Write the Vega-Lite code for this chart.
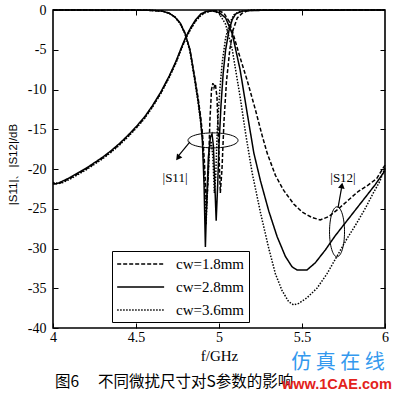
{
  "$schema": "https://vega.github.io/schema/vega-lite/v6.json",
  "width": 332,
  "height": 318,
  "autosize": "none",
  "padding": {"left": 53, "top": 10, "right": 15, "bottom": 66},
  "background": "white",
  "config": {
    "view": {"stroke": "black", "strokeWidth": 1.6},
    "axis": {"domain": false, "grid": false, "labelFont": "Liberation Serif", "labelFontSize": 14, "labelColor": "black", "tickColor": "black", "tickWidth": 1, "titleFont": "Liberation Serif", "titleColor": "black", "titleFontWeight": "normal"}
  },
  "datasets": {
    "curves": [
      {"f":4.0,"db":-21.8,"cw":"cw=1.8mm","s":"S12"},{"f":4.03,"db":-21.9,"cw":"cw=1.8mm","s":"S12"},{"f":4.06,"db":-21.6,"cw":"cw=1.8mm","s":"S12"},{"f":4.1,"db":-21.2,"cw":"cw=1.8mm","s":"S12"},{"f":4.15,"db":-20.6,"cw":"cw=1.8mm","s":"S12"},{"f":4.2,"db":-20.0,"cw":"cw=1.8mm","s":"S12"},{"f":4.25,"db":-19.3,"cw":"cw=1.8mm","s":"S12"},{"f":4.3,"db":-18.6,"cw":"cw=1.8mm","s":"S12"},{"f":4.35,"db":-17.8,"cw":"cw=1.8mm","s":"S12"},{"f":4.4,"db":-16.9,"cw":"cw=1.8mm","s":"S12"},{"f":4.45,"db":-15.9,"cw":"cw=1.8mm","s":"S12"},{"f":4.5,"db":-14.8,"cw":"cw=1.8mm","s":"S12"},{"f":4.55,"db":-13.6,"cw":"cw=1.8mm","s":"S12"},{"f":4.6,"db":-12.1,"cw":"cw=1.8mm","s":"S12"},{"f":4.65,"db":-10.4,"cw":"cw=1.8mm","s":"S12"},{"f":4.7,"db":-8.4,"cw":"cw=1.8mm","s":"S12"},{"f":4.74,"db":-6.6,"cw":"cw=1.8mm","s":"S12"},{"f":4.77,"db":-5.0,"cw":"cw=1.8mm","s":"S12"},{"f":4.8,"db":-3.5,"cw":"cw=1.8mm","s":"S12"},{"f":4.83,"db":-2.3,"cw":"cw=1.8mm","s":"S12"},{"f":4.86,"db":-1.3,"cw":"cw=1.8mm","s":"S12"},{"f":4.89,"db":-0.6,"cw":"cw=1.8mm","s":"S12"},{"f":4.92,"db":-0.25,"cw":"cw=1.8mm","s":"S12"},{"f":4.96,"db":-0.1,"cw":"cw=1.8mm","s":"S12"},
      {"f":5.0,"db":-0.1,"cw":"cw=1.8mm","s":"S12"},{"f":5.03,"db":-0.4,"cw":"cw=1.8mm","s":"S12"},{"f":5.06,"db":-1.4,"cw":"cw=1.8mm","s":"S12"},{"f":5.084,"db":-2.9,"cw":"cw=1.8mm","s":"S12"},{"f":5.12,"db":-5.5,"cw":"cw=1.8mm","s":"S12"},{"f":5.169,"db":-8.8,"cw":"cw=1.8mm","s":"S12"},{"f":5.22,"db":-12.6,"cw":"cw=1.8mm","s":"S12"},{"f":5.26,"db":-15.8,"cw":"cw=1.8mm","s":"S12"},{"f":5.29,"db":-18.0,"cw":"cw=1.8mm","s":"S12"},{"f":5.34,"db":-20.8,"cw":"cw=1.8mm","s":"S12"},{"f":5.39,"db":-22.7,"cw":"cw=1.8mm","s":"S12"},{"f":5.45,"db":-24.4,"cw":"cw=1.8mm","s":"S12"},{"f":5.5,"db":-25.4,"cw":"cw=1.8mm","s":"S12"},{"f":5.56,"db":-26.1,"cw":"cw=1.8mm","s":"S12"},{"f":5.61,"db":-26.4,"cw":"cw=1.8mm","s":"S12"},{"f":5.66,"db":-26.0,"cw":"cw=1.8mm","s":"S12"},{"f":5.72,"db":-25.0,"cw":"cw=1.8mm","s":"S12"},{"f":5.78,"db":-23.9,"cw":"cw=1.8mm","s":"S12"},{"f":5.84,"db":-22.8,"cw":"cw=1.8mm","s":"S12"},{"f":5.9,"db":-22.0,"cw":"cw=1.8mm","s":"S12"},{"f":5.95,"db":-21.2,"cw":"cw=1.8mm","s":"S12"},{"f":6.0,"db":-19.5,"cw":"cw=1.8mm","s":"S12"},

      {"f":4.0,"db":-21.9,"cw":"cw=2.8mm","s":"S12"},{"f":4.03,"db":-21.8,"cw":"cw=2.8mm","s":"S12"},{"f":4.06,"db":-21.5,"cw":"cw=2.8mm","s":"S12"},{"f":4.1,"db":-21.1,"cw":"cw=2.8mm","s":"S12"},{"f":4.15,"db":-20.5,"cw":"cw=2.8mm","s":"S12"},{"f":4.2,"db":-19.9,"cw":"cw=2.8mm","s":"S12"},{"f":4.25,"db":-19.2,"cw":"cw=2.8mm","s":"S12"},{"f":4.3,"db":-18.5,"cw":"cw=2.8mm","s":"S12"},{"f":4.35,"db":-17.7,"cw":"cw=2.8mm","s":"S12"},{"f":4.4,"db":-16.8,"cw":"cw=2.8mm","s":"S12"},{"f":4.45,"db":-15.8,"cw":"cw=2.8mm","s":"S12"},{"f":4.5,"db":-14.7,"cw":"cw=2.8mm","s":"S12"},{"f":4.55,"db":-13.5,"cw":"cw=2.8mm","s":"S12"},{"f":4.6,"db":-12.0,"cw":"cw=2.8mm","s":"S12"},{"f":4.65,"db":-10.3,"cw":"cw=2.8mm","s":"S12"},{"f":4.7,"db":-8.3,"cw":"cw=2.8mm","s":"S12"},{"f":4.74,"db":-6.5,"cw":"cw=2.8mm","s":"S12"},{"f":4.77,"db":-4.9,"cw":"cw=2.8mm","s":"S12"},{"f":4.8,"db":-3.4,"cw":"cw=2.8mm","s":"S12"},{"f":4.83,"db":-2.2,"cw":"cw=2.8mm","s":"S12"},{"f":4.86,"db":-1.2,"cw":"cw=2.8mm","s":"S12"},{"f":4.89,"db":-0.5,"cw":"cw=2.8mm","s":"S12"},{"f":4.92,"db":-0.2,"cw":"cw=2.8mm","s":"S12"},{"f":4.96,"db":-0.1,"cw":"cw=2.8mm","s":"S12"},
      {"f":5.0,"db":-0.3,"cw":"cw=2.8mm","s":"S12"},{"f":5.04,"db":-1.0,"cw":"cw=2.8mm","s":"S12"},{"f":5.08,"db":-3.0,"cw":"cw=2.8mm","s":"S12"},{"f":5.127,"db":-7.5,"cw":"cw=2.8mm","s":"S12"},{"f":5.17,"db":-13.0,"cw":"cw=2.8mm","s":"S12"},{"f":5.21,"db":-18.0,"cw":"cw=2.8mm","s":"S12"},{"f":5.25,"db":-21.5,"cw":"cw=2.8mm","s":"S12"},{"f":5.3,"db":-25.3,"cw":"cw=2.8mm","s":"S12"},{"f":5.35,"db":-28.5,"cw":"cw=2.8mm","s":"S12"},{"f":5.4,"db":-31.0,"cw":"cw=2.8mm","s":"S12"},{"f":5.44,"db":-32.3,"cw":"cw=2.8mm","s":"S12"},{"f":5.47,"db":-32.7,"cw":"cw=2.8mm","s":"S12"},{"f":5.53,"db":-32.7,"cw":"cw=2.8mm","s":"S12"},{"f":5.58,"db":-31.8,"cw":"cw=2.8mm","s":"S12"},{"f":5.64,"db":-30.2,"cw":"cw=2.8mm","s":"S12"},{"f":5.7,"db":-28.4,"cw":"cw=2.8mm","s":"S12"},{"f":5.76,"db":-26.8,"cw":"cw=2.8mm","s":"S12"},{"f":5.82,"db":-25.2,"cw":"cw=2.8mm","s":"S12"},{"f":5.88,"db":-23.6,"cw":"cw=2.8mm","s":"S12"},{"f":5.94,"db":-22.0,"cw":"cw=2.8mm","s":"S12"},{"f":6.0,"db":-20.2,"cw":"cw=2.8mm","s":"S12"},

      {"f":4.0,"db":-21.7,"cw":"cw=3.6mm","s":"S12"},{"f":4.03,"db":-21.8,"cw":"cw=3.6mm","s":"S12"},{"f":4.06,"db":-21.7,"cw":"cw=3.6mm","s":"S12"},{"f":4.1,"db":-21.3,"cw":"cw=3.6mm","s":"S12"},{"f":4.15,"db":-20.7,"cw":"cw=3.6mm","s":"S12"},{"f":4.2,"db":-20.1,"cw":"cw=3.6mm","s":"S12"},{"f":4.25,"db":-19.4,"cw":"cw=3.6mm","s":"S12"},{"f":4.3,"db":-18.7,"cw":"cw=3.6mm","s":"S12"},{"f":4.35,"db":-17.9,"cw":"cw=3.6mm","s":"S12"},{"f":4.4,"db":-17.0,"cw":"cw=3.6mm","s":"S12"},{"f":4.45,"db":-16.0,"cw":"cw=3.6mm","s":"S12"},{"f":4.5,"db":-14.9,"cw":"cw=3.6mm","s":"S12"},{"f":4.55,"db":-13.7,"cw":"cw=3.6mm","s":"S12"},{"f":4.6,"db":-12.2,"cw":"cw=3.6mm","s":"S12"},{"f":4.65,"db":-10.5,"cw":"cw=3.6mm","s":"S12"},{"f":4.7,"db":-8.5,"cw":"cw=3.6mm","s":"S12"},{"f":4.74,"db":-6.7,"cw":"cw=3.6mm","s":"S12"},{"f":4.77,"db":-5.1,"cw":"cw=3.6mm","s":"S12"},{"f":4.8,"db":-3.6,"cw":"cw=3.6mm","s":"S12"},{"f":4.83,"db":-2.4,"cw":"cw=3.6mm","s":"S12"},{"f":4.86,"db":-1.4,"cw":"cw=3.6mm","s":"S12"},{"f":4.89,"db":-0.7,"cw":"cw=3.6mm","s":"S12"},{"f":4.92,"db":-0.3,"cw":"cw=3.6mm","s":"S12"},{"f":4.96,"db":-0.1,"cw":"cw=3.6mm","s":"S12"},
      {"f":5.0,"db":-0.4,"cw":"cw=3.6mm","s":"S12"},{"f":5.04,"db":-1.8,"cw":"cw=3.6mm","s":"S12"},{"f":5.08,"db":-5.0,"cw":"cw=3.6mm","s":"S12"},{"f":5.127,"db":-10.9,"cw":"cw=3.6mm","s":"S12"},{"f":5.16,"db":-15.5,"cw":"cw=3.6mm","s":"S12"},{"f":5.2,"db":-20.5,"cw":"cw=3.6mm","s":"S12"},{"f":5.25,"db":-25.5,"cw":"cw=3.6mm","s":"S12"},{"f":5.3,"db":-30.0,"cw":"cw=3.6mm","s":"S12"},{"f":5.34,"db":-33.2,"cw":"cw=3.6mm","s":"S12"},{"f":5.38,"db":-35.3,"cw":"cw=3.6mm","s":"S12"},{"f":5.42,"db":-36.7,"cw":"cw=3.6mm","s":"S12"},{"f":5.45,"db":-37.1,"cw":"cw=3.6mm","s":"S12"},{"f":5.48,"db":-36.9,"cw":"cw=3.6mm","s":"S12"},{"f":5.53,"db":-36.2,"cw":"cw=3.6mm","s":"S12"},{"f":5.59,"db":-35.0,"cw":"cw=3.6mm","s":"S12"},{"f":5.65,"db":-33.2,"cw":"cw=3.6mm","s":"S12"},{"f":5.71,"db":-31.0,"cw":"cw=3.6mm","s":"S12"},{"f":5.77,"db":-28.8,"cw":"cw=3.6mm","s":"S12"},{"f":5.83,"db":-26.8,"cw":"cw=3.6mm","s":"S12"},{"f":5.88,"db":-25.0,"cw":"cw=3.6mm","s":"S12"},{"f":5.93,"db":-23.0,"cw":"cw=3.6mm","s":"S12"},{"f":5.97,"db":-21.5,"cw":"cw=3.6mm","s":"S12"},{"f":6.0,"db":-19.8,"cw":"cw=3.6mm","s":"S12"},

      {"f":4.0,"db":0,"cw":"cw=1.8mm","s":"S11"},{"f":4.3,"db":0,"cw":"cw=1.8mm","s":"S11"},{"f":4.55,"db":-0.02,"cw":"cw=1.8mm","s":"S11"},{"f":4.62,"db":-0.08,"cw":"cw=1.8mm","s":"S11"},{"f":4.66,"db":-0.15,"cw":"cw=1.8mm","s":"S11"},{"f":4.7,"db":-0.4,"cw":"cw=1.8mm","s":"S11"},{"f":4.735,"db":-0.9,"cw":"cw=1.8mm","s":"S11"},{"f":4.765,"db":-1.6,"cw":"cw=1.8mm","s":"S11"},{"f":4.795,"db":-2.9,"cw":"cw=1.8mm","s":"S11"},{"f":4.825,"db":-5.0,"cw":"cw=1.8mm","s":"S11"},{"f":4.855,"db":-8.6,"cw":"cw=1.8mm","s":"S11"},{"f":4.875,"db":-11.2,"cw":"cw=1.8mm","s":"S11"},{"f":4.89,"db":-13.5,"cw":"cw=1.8mm","s":"S11"},
      {"f":4.9,"db":-15.5,"cw":"cw=1.8mm","s":"S11"},{"f":4.912,"db":-19,"cw":"cw=1.8mm","s":"S11"},{"f":4.925,"db":-25,"cw":"cw=1.8mm","s":"S11"},{"f":4.935,"db":-21,"cw":"cw=1.8mm","s":"S11"},{"f":4.945,"db":-14,"cw":"cw=1.8mm","s":"S11"},{"f":4.955,"db":-10,"cw":"cw=1.8mm","s":"S11"},{"f":4.963,"db":-9.2,"cw":"cw=1.8mm","s":"S11"},{"f":4.97,"db":-9.8,"cw":"cw=1.8mm","s":"S11"},{"f":4.978,"db":-9.3,"cw":"cw=1.8mm","s":"S11"},{"f":4.988,"db":-11,"cw":"cw=1.8mm","s":"S11"},{"f":4.998,"db":-17,"cw":"cw=1.8mm","s":"S11"},{"f":5.008,"db":-23,"cw":"cw=1.8mm","s":"S11"},{"f":5.018,"db":-20,"cw":"cw=1.8mm","s":"S11"},{"f":5.03,"db":-14,"cw":"cw=1.8mm","s":"S11"},{"f":5.045,"db":-9,"cw":"cw=1.8mm","s":"S11"},{"f":5.065,"db":-5,"cw":"cw=1.8mm","s":"S11"},{"f":5.085,"db":-2.5,"cw":"cw=1.8mm","s":"S11"},{"f":5.11,"db":-1,"cw":"cw=1.8mm","s":"S11"},{"f":5.14,"db":-0.4,"cw":"cw=1.8mm","s":"S11"},{"f":5.17,"db":-0.1,"cw":"cw=1.8mm","s":"S11"},{"f":5.25,"db":0,"cw":"cw=1.8mm","s":"S11"},{"f":6.0,"db":0,"cw":"cw=1.8mm","s":"S11"},

      {"f":4.0,"db":0,"cw":"cw=2.8mm","s":"S11"},{"f":4.3,"db":0,"cw":"cw=2.8mm","s":"S11"},{"f":4.55,"db":-0.02,"cw":"cw=2.8mm","s":"S11"},{"f":4.62,"db":-0.08,"cw":"cw=2.8mm","s":"S11"},{"f":4.66,"db":-0.15,"cw":"cw=2.8mm","s":"S11"},{"f":4.7,"db":-0.4,"cw":"cw=2.8mm","s":"S11"},{"f":4.735,"db":-0.9,"cw":"cw=2.8mm","s":"S11"},{"f":4.765,"db":-1.6,"cw":"cw=2.8mm","s":"S11"},{"f":4.795,"db":-2.9,"cw":"cw=2.8mm","s":"S11"},{"f":4.825,"db":-5.0,"cw":"cw=2.8mm","s":"S11"},{"f":4.855,"db":-8.8,"cw":"cw=2.8mm","s":"S11"},{"f":4.875,"db":-11.5,"cw":"cw=2.8mm","s":"S11"},{"f":4.89,"db":-14.0,"cw":"cw=2.8mm","s":"S11"},
      {"f":4.9,"db":-16.5,"cw":"cw=2.8mm","s":"S11"},{"f":4.91,"db":-22,"cw":"cw=2.8mm","s":"S11"},{"f":4.918,"db":-29.8,"cw":"cw=2.8mm","s":"S11"},{"f":4.926,"db":-24,"cw":"cw=2.8mm","s":"S11"},{"f":4.936,"db":-18.5,"cw":"cw=2.8mm","s":"S11"},{"f":4.948,"db":-16.0,"cw":"cw=2.8mm","s":"S11"},{"f":4.958,"db":-15.6,"cw":"cw=2.8mm","s":"S11"},{"f":4.966,"db":-17,"cw":"cw=2.8mm","s":"S11"},{"f":4.975,"db":-22,"cw":"cw=2.8mm","s":"S11"},{"f":4.983,"db":-26.5,"cw":"cw=2.8mm","s":"S11"},{"f":4.992,"db":-22,"cw":"cw=2.8mm","s":"S11"},{"f":5.0,"db":-17,"cw":"cw=2.8mm","s":"S11"},{"f":5.012,"db":-12,"cw":"cw=2.8mm","s":"S11"},{"f":5.025,"db":-8,"cw":"cw=2.8mm","s":"S11"},{"f":5.04,"db":-5,"cw":"cw=2.8mm","s":"S11"},{"f":5.06,"db":-2.6,"cw":"cw=2.8mm","s":"S11"},{"f":5.08,"db":-1.2,"cw":"cw=2.8mm","s":"S11"},{"f":5.1,"db":-0.5,"cw":"cw=2.8mm","s":"S11"},{"f":5.14,"db":-0.15,"cw":"cw=2.8mm","s":"S11"},{"f":5.2,"db":-0.05,"cw":"cw=2.8mm","s":"S11"},{"f":6.0,"db":0,"cw":"cw=2.8mm","s":"S11"},

      {"f":4.0,"db":0,"cw":"cw=3.6mm","s":"S11"},{"f":4.3,"db":0,"cw":"cw=3.6mm","s":"S11"},{"f":4.55,"db":-0.02,"cw":"cw=3.6mm","s":"S11"},{"f":4.62,"db":-0.08,"cw":"cw=3.6mm","s":"S11"},{"f":4.66,"db":-0.15,"cw":"cw=3.6mm","s":"S11"},{"f":4.7,"db":-0.4,"cw":"cw=3.6mm","s":"S11"},{"f":4.735,"db":-0.9,"cw":"cw=3.6mm","s":"S11"},{"f":4.765,"db":-1.7,"cw":"cw=3.6mm","s":"S11"},{"f":4.795,"db":-3.0,"cw":"cw=3.6mm","s":"S11"},{"f":4.825,"db":-5.2,"cw":"cw=3.6mm","s":"S11"},{"f":4.855,"db":-9.0,"cw":"cw=3.6mm","s":"S11"},{"f":4.875,"db":-11.8,"cw":"cw=3.6mm","s":"S11"},{"f":4.89,"db":-14.2,"cw":"cw=3.6mm","s":"S11"},
      {"f":4.9,"db":-16,"cw":"cw=3.6mm","s":"S11"},{"f":4.91,"db":-20,"cw":"cw=3.6mm","s":"S11"},{"f":4.922,"db":-27,"cw":"cw=3.6mm","s":"S11"},{"f":4.932,"db":-22,"cw":"cw=3.6mm","s":"S11"},{"f":4.943,"db":-17.5,"cw":"cw=3.6mm","s":"S11"},{"f":4.953,"db":-16.5,"cw":"cw=3.6mm","s":"S11"},{"f":4.963,"db":-18.5,"cw":"cw=3.6mm","s":"S11"},{"f":4.972,"db":-23,"cw":"cw=3.6mm","s":"S11"},{"f":4.98,"db":-21,"cw":"cw=3.6mm","s":"S11"},{"f":4.99,"db":-15,"cw":"cw=3.6mm","s":"S11"},{"f":5.005,"db":-10,"cw":"cw=3.6mm","s":"S11"},{"f":5.02,"db":-6.5,"cw":"cw=3.6mm","s":"S11"},{"f":5.04,"db":-3.5,"cw":"cw=3.6mm","s":"S11"},{"f":5.065,"db":-1.6,"cw":"cw=3.6mm","s":"S11"},{"f":5.09,"db":-0.6,"cw":"cw=3.6mm","s":"S11"},{"f":5.12,"db":-0.2,"cw":"cw=3.6mm","s":"S11"},{"f":5.2,"db":0,"cw":"cw=3.6mm","s":"S11"},{"f":6.0,"db":0,"cw":"cw=3.6mm","s":"S11"}
    ],
    "labels": [
      {"f": 4.735, "db": -21.1, "label": "|S11|"},
      {"f": 5.747, "db": -21.1, "label": "|S12|"}
    ],
    "one": [{}]
  },
  "layer": [
    {
      "data": {"name": "curves"},
      "mark": {"type": "line", "strokeWidth": 1.5, "color": "black"},
      "encoding": {
        "x": {"field": "f", "type": "quantitative",
          "scale": {"domain": [4, 6], "nice": false, "zero": false},
          "axis": {"orient": "bottom", "values": [4, 4.5, 5, 5.5, 6], "format": "~g", "tickSize": -5, "labelPadding": 7, "labelFlush": false, "title": "f/GHz", "titleFontSize": 15, "titlePadding": 4}},
        "y": {"field": "db", "type": "quantitative",
          "scale": {"domain": [-40, 0], "nice": false, "zero": false},
          "axis": {"orient": "left", "values": [-40, -35, -30, -25, -20, -15, -10, -5, 0], "labelExpr": "'' + datum.value", "tickSize": -5, "labelPadding": 12, "title": "|S11|、|S12|/dB", "titleFont": "Liberation Sans", "titleFontSize": 11.5, "titleAngle": -90, "titleX": -40, "titleY": 154, "titleAlign": "center", "titleBaseline": "middle"}},
        "strokeDash": {"field": "cw", "type": "nominal",
          "scale": {"domain": ["cw=1.8mm", "cw=2.8mm", "cw=3.6mm"], "range": [[4, 2], [1, 0], [1.5, 1.5]]},
          "legend": {"orient": "none", "legendX": 59, "legendY": 241, "title": null, "symbolType": "M-1,0H5", "symbolSize": 245, "symbolStrokeWidth": 1.5, "symbolStrokeColor": "black", "labelFont": "Liberation Serif", "labelFontSize": 15, "labelColor": "black", "labelOffset": 42, "strokeColor": "black", "fillColor": "white", "padding": 4, "rowPadding": 6, "labelLimit": 0}},
        "detail": {"field": "s"}
      }
    },
    {
      "data": {"name": "labels"},
      "mark": {"type": "text", "font": "Liberation Serif", "fontSize": 13, "color": "black"},
      "encoding": {
        "x": {"field": "f", "type": "quantitative", "axis": {"orient": "top", "values": [4.5, 5, 5.5], "labels": false, "tickSize": -5, "title": null}},
        "y": {"field": "db", "type": "quantitative", "axis": {"orient": "right", "values": [-35, -30, -25, -20, -15, -10, -5], "labels": false, "tickSize": -5, "title": null}},
        "text": {"field": "label"}
      }
    },
    {
      "data": {"name": "one"},
      "mark": {"type": "point", "shape": "M-1,0A1,0.3 0 1,1 1,0A1,0.3 0 1,1 -1,0Z", "size": 2500, "filled": false, "stroke": "black", "strokeWidth": 1, "opacity": 1},
      "encoding": {"x": {"datum": 4.964, "type": "quantitative", "axis": null}, "y": {"datum": -16.4, "type": "quantitative", "axis": null}}
    },
    {
      "data": {"name": "one"},
      "mark": {"type": "point", "shape": "M0,-1A0.3,1 0 1,1 0,1A0.3,1 0 1,1 0,-1Z", "size": 2500, "filled": false, "stroke": "black", "strokeWidth": 1, "opacity": 1},
      "encoding": {"x": {"datum": 5.711, "type": "quantitative", "axis": null}, "y": {"datum": -27.9, "type": "quantitative", "axis": null}}
    },
    {
      "data": {"name": "one"},
      "mark": {"type": "rule", "color": "black", "strokeWidth": 1.2},
      "encoding": {"x": {"datum": 4.825, "type": "quantitative", "axis": null}, "y": {"datum": -16.6, "type": "quantitative", "axis": null}, "x2": {"datum": 4.758}, "y2": {"datum": -18.3}}
    },
    {
      "data": {"name": "one"},
      "mark": {"type": "point", "shape": "triangle", "size": 45, "filled": true, "color": "black", "angle": 217, "opacity": 1},
      "encoding": {"x": {"datum": 4.756, "type": "quantitative", "axis": null}, "y": {"datum": -18.5, "type": "quantitative", "axis": null}}
    },
    {
      "data": {"name": "one"},
      "mark": {"type": "rule", "color": "black", "strokeWidth": 1.2},
      "encoding": {"x": {"datum": 5.717, "type": "quantitative", "axis": null}, "y": {"datum": -24.9, "type": "quantitative", "axis": null}, "x2": {"datum": 5.738}, "y2": {"datum": -22.4}}
    },
    {
      "data": {"name": "one"},
      "mark": {"type": "point", "shape": "triangle", "size": 45, "filled": true, "color": "black", "angle": 10, "opacity": 1},
      "encoding": {"x": {"datum": 5.739, "type": "quantitative", "axis": null}, "y": {"datum": -22.2, "type": "quantitative", "axis": null}}
    },
    {
      "data": {"name": "one"},
      "mark": {"type": "text", "text": "图6　 不同微扰尺寸对S参数的影响", "font": "Noto Sans CJK SC", "fontSize": 15.5, "align": "left", "baseline": "middle", "color": "black"},
      "encoding": {"x": {"datum": 4.012, "type": "quantitative", "axis": null}, "y": {"datum": -46.8, "type": "quantitative", "axis": null}}
    },
    {
      "data": {"name": "one"},
      "mark": {"type": "text", "text": "仿 真 在 线", "font": "Noto Sans CJK SC", "fontSize": 20, "align": "center", "baseline": "middle", "color": "#3399ee"},
      "encoding": {"x": {"datum": 5.717, "type": "quantitative", "axis": null}, "y": {"datum": -44.4, "type": "quantitative", "axis": null}}
    },
    {
      "data": {"name": "one"},
      "mark": {"type": "text", "text": "www.1CAE.com", "font": "Liberation Sans", "fontSize": 14.5, "fontWeight": "bold", "align": "center", "baseline": "middle", "color": "#e3221c"},
      "encoding": {"x": {"datum": 5.71, "type": "quantitative", "axis": null}, "y": {"datum": -47.15, "type": "quantitative", "axis": null}}
    }
  ],
  "resolve": {"axis": {"x": "independent", "y": "independent"}}
}
